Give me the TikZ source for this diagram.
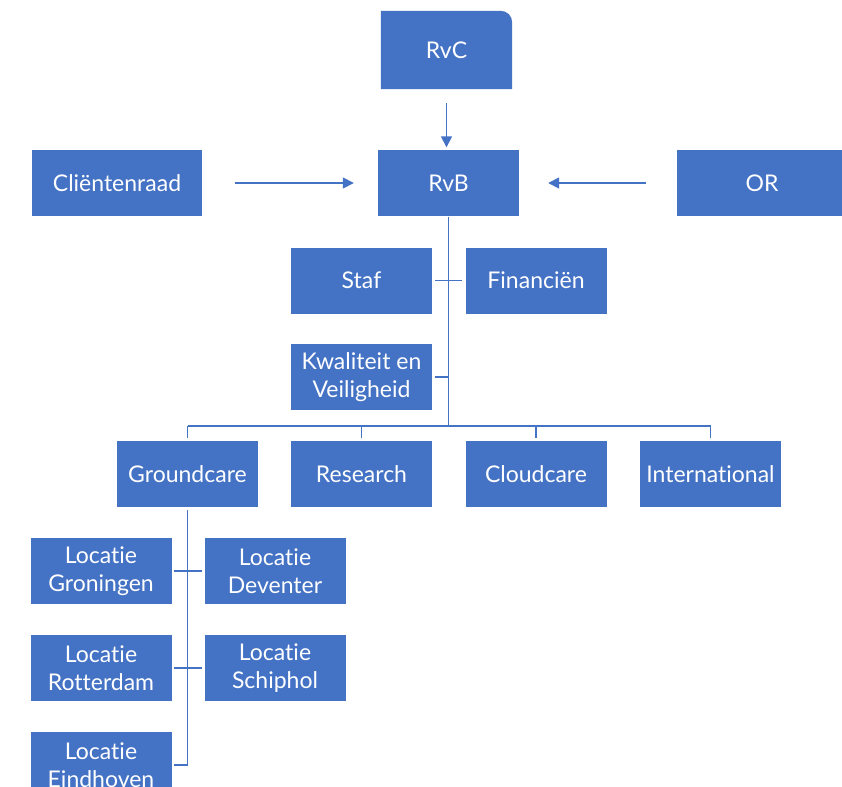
\documentclass[tikz,border=0pt]{standalone}
\usepackage{fontspec}
\setmainfont{Lato}[Ligatures={NoCommon}]
\usetikzlibrary{arrows.meta,backgrounds}
\definecolor{obox}{HTML}{4472C4}
\begin{document}
\begin{tikzpicture}[x=1pt,y=-1pt,
  box/.style={fill=obox,text=white,minimum width=141pt,minimum height=66pt,inner sep=0pt,align=center,font=\fontsize{23}{28}\selectfont},
  wide/.style={minimum width=170pt,minimum height=66pt},
  link/.style={draw=obox,line width=1.6pt},
  arr/.style={link,-{Triangle[width=11pt,length=11pt]}}]
\useasboundingbox (0,0) rectangle (842,786);
\node[box,fill=none,minimum width=131pt,minimum height=78pt] (RvC) at (446.5,50) {RvC};
\node[box] (RvB) at (448.5,183.5) {RvB};
\node[box,wide] (Cli) at (117,183) {Cliëntenraad};
\node[box,wide] (OR) at (762,183) {OR};
\node[box] (Staf) at (361.5,280.5) {Staf};
\node[box] (Fin) at (536,280.5) {Financiën};
\node[box] (Kwal) at (361.5,377) {Kwaliteit en\\Veiligheid};
\node[box] (Ground) at (187.5,474) {Groundcare};
\node[box] (Res) at (361.5,474) {Research};
\node[box] (Cloud) at (536,474) {Cloudcare};
\node[box] (Int) at (710.5,474) {International};
\node[box] (Gron) at (101,571) {Locatie\\Groningen};
\node[box] (Dev) at (275,571) {Locatie\\Deventer};
\node[box] (Rot) at (101,668) {Locatie\\Rotterdam};
\node[box] (Sch) at (275,668) {Locatie\\Schiphol};
\node[box] (Ein) at (101,765) {Locatie\\Eindhoven};
\begin{scope}[on background layer]
\fill[white] (0,0) rectangle (842,786);
\fill[obox] (RvC.south west) -- (RvC.north west) -- ([xshift=-12pt]RvC.north east)
  .. controls ([xshift=-5pt]RvC.north east) and ([yshift=-5pt]RvC.north east) .. ([yshift=-12pt]RvC.north east)
  -- (RvC.south east) -- cycle;
\end{scope}
\coordinate (bus) at (448,426);
\draw[arr,shorten <=14pt,shorten >=3pt] (RvC.south) -- (RvC.south |- RvB.north);
\draw[arr,shorten <=33pt,shorten >=24pt] (Cli.east) -- (RvB.west |- Cli.east);
\draw[arr,shorten <=31pt,shorten >=29pt] (OR.west) -- (RvB.east |- OR.west);
\draw[link] (RvB.south) -- (RvB.south |- bus);
\draw[link] ([xshift=3pt]Staf.east) -- ([xshift=-3pt]Fin.west);
\draw[link] ([xshift=3pt]Kwal.east) -- (Kwal.east -| RvB.south);
\draw[link] (Ground.north |- bus) -- (Int.north |- bus);
\foreach \n in {Ground,Res,Cloud,Int} \draw[link] (\n.north |- bus) -- ([yshift=3pt]\n.north);
\draw[link] ([yshift=-3pt]Ground.south) -- (Ground.south |- Ein.east) -- ([xshift=2pt]Ein.east);
\draw[link] ([xshift=2pt]Gron.east) -- ([xshift=-2pt]Dev.west);
\draw[link] ([xshift=2pt]Rot.east) -- ([xshift=-2pt]Sch.west);
\end{tikzpicture}
\end{document}
